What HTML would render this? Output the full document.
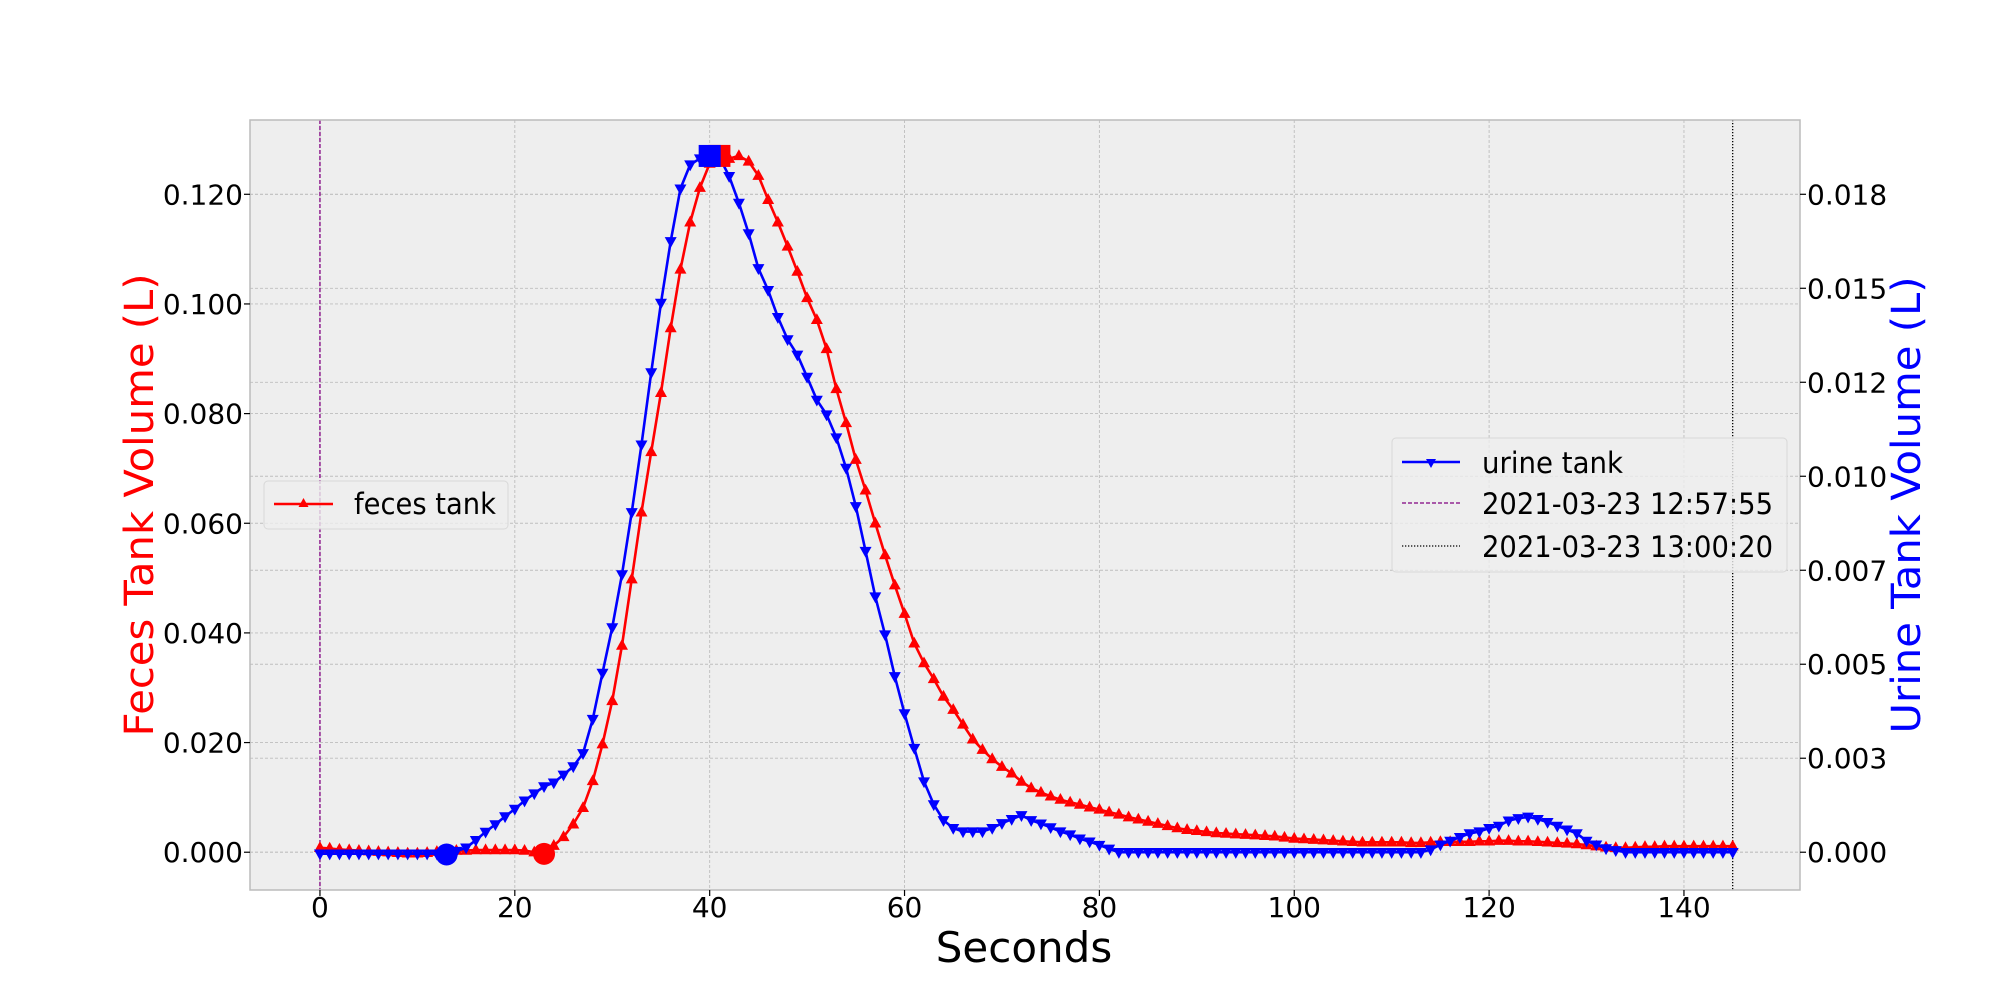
<!DOCTYPE html>
<html><head><meta charset="utf-8"><title>Tank Volume</title>
<style>
html,body{margin:0;padding:0;background:#fff;}
svg{display:block;font-family:"DejaVu Sans","Liberation Sans",sans-serif;}
</style></head>
<body>
<svg id="chart" width="2000" height="1000" viewBox="0 0 2000 1000" xmlns="http://www.w3.org/2000/svg">
  <rect x="250" y="120" width="1550" height="770" fill="#eeeeee"/>
  <g id="grid"></g>
  <g id="vlines"></g>
  <g id="series"></g>
  <rect x="250" y="120" width="1550" height="770" fill="none" stroke="#bcbcbc" stroke-width="1.5"/>
  <g id="axes"></g>
  <text x="1024" y="962" font-size="42" text-anchor="middle" fill="#000">Seconds</text>
  <text x="0" y="0" font-size="40" text-anchor="middle" fill="#ff0000" transform="translate(153,505) rotate(-90)" textLength="463" lengthAdjust="spacingAndGlyphs">Feces Tank Volume (L)</text>
  <text x="0" y="0" font-size="40" text-anchor="middle" fill="#0000ff" transform="translate(1920,505) rotate(-90)" textLength="457" lengthAdjust="spacingAndGlyphs">Urine Tank Volume (L)</text>

  <g>
    <rect x="264" y="481" width="244" height="48" rx="4" fill="#eeeeee" fill-opacity="0.8" stroke="#d8d8d8" stroke-width="1"/>
    <line x1="274" y1="504" x2="333" y2="504" stroke="#ff0000" stroke-width="2.5"/>
    <polygon points="303.5,498 298.5,507 308.5,507" fill="#ff0000"/>
    <text x="354" y="514" font-size="29" fill="#000" textLength="142" lengthAdjust="spacingAndGlyphs">feces tank</text>
  </g>
  <g>
    <rect x="1392" y="438" width="395" height="134" rx="4" fill="#eeeeee" fill-opacity="0.8" stroke="#d8d8d8" stroke-width="1"/>
    <line x1="1402" y1="462" x2="1460" y2="462" stroke="#0000ff" stroke-width="2.5"/>
    <polygon points="1431,468 1426,459 1436,459" fill="#0000ff"/>
    <text x="1482" y="473" font-size="29" fill="#000" textLength="141" lengthAdjust="spacingAndGlyphs">urine tank</text>
    <line x1="1402" y1="503" x2="1460" y2="503" stroke="#800080" stroke-width="1.3" stroke-dasharray="4,2"/>
    <text x="1482" y="514" font-size="29" fill="#000" textLength="291" lengthAdjust="spacingAndGlyphs">2021-03-23 12:57:55</text>
    <line x1="1402" y1="546" x2="1460" y2="546" stroke="#000" stroke-width="1.3" stroke-dasharray="1.3,1.7"/>
    <text x="1482" y="557" font-size="29" fill="#000" textLength="291" lengthAdjust="spacingAndGlyphs">2021-03-23 13:00:20</text>
  </g>
</svg>
<script>
const xTicks = [0, 20, 40, 60, 80, 100, 120, 140];
const leftTicks = [0, 0.02, 0.04, 0.06, 0.08, 0.10, 0.12];
const leftTickLabels = ["0.000","0.020","0.040","0.060","0.080","0.100","0.120"];
const rightTicks = [0, 0.0025, 0.005, 0.0075, 0.01, 0.0125, 0.015, 0.0175];
const rightTickLabels = ["0.000","0.003","0.005","0.007","0.010","0.012","0.015","0.018"];
const eventTimes = [0, 145];
const fecesVolume = [
0.0008,0.0007,0.0005,0.0004,0.0003,0.0002,0.0001,0,-0.0001,-0.0002,
-0.0002,-0.0001,0.0001,0.0002,0.0003,0.0003,0.0004,0.0004,0.0004,0.0004,
0.0004,0.0003,0.0,-0.0003,0.0012,0.0028,0.0051,0.0081,0.013,0.0197,
0.0276,0.0377,0.0498,0.062,0.073,0.0838,0.0956,0.1063,0.1149,0.1212,
0.1256,0.127,0.1265,0.127,0.126,0.1234,0.119,0.1149,0.1105,0.1059,
0.1011,0.0971,0.0918,0.0845,0.0783,0.0716,0.066,0.06,0.0542,0.0487,
0.0435,0.0381,0.0345,0.0316,0.0284,0.026,0.0233,0.0206,0.0187,0.017,
0.0156,0.0144,0.0129,0.0117,0.0109,0.0102,0.0096,0.0091,0.0087,0.0082,
0.0078,0.0073,0.0069,0.0064,0.006,0.0056,0.0052,0.0048,0.0044,0.0041,
0.0039,0.0037,0.0035,0.0034,0.0033,0.0032,0.0031,0.003,0.0029,0.0027,
0.0025,0.0024,0.0023,0.0022,0.0021,0.002,0.0019,0.0018,0.0018,0.0018,
0.0018,0.0018,0.0017,0.0017,0.0018,0.0019,0.0019,0.0019,0.0019,0.002,
0.002,0.0021,0.0021,0.002,0.002,0.0019,0.0018,0.0017,0.0016,0.0015,
0.0013,0.0011,0.0009,0.0008,0.0008,0.0009,0.001,0.001,0.0011,0.0011,
0.0011,0.0011,0.0011,0.0011,0.0011,0.0011];
const urineVolume = [
-0.00004,-0.00004,-0.00004,-0.00004,-0.00004,-0.00004,-0.00004,-0.00004,-0.00004,-0.00004,
-0.00004,-0.00004,-0.00004,-0.00006,0.00003,0.00012,0.00032,0.00054,0.00074,0.00095,
0.00115,0.00137,0.00156,0.00175,0.00185,0.00206,0.00228,0.00263,0.00354,0.00477,
0.00598,0.00739,0.00904,0.01084,0.01276,0.01461,0.01625,0.01765,0.01829,0.01845,
0.01852,0.01849,0.01798,0.01727,0.01646,0.01553,0.01495,0.01423,0.01364,0.01323,
0.01264,0.01203,0.01164,0.01103,0.01022,0.0092,0.00801,0.0068,0.00579,0.00468,
0.00369,0.00277,0.00188,0.00127,0.00085,0.00064,0.00055,0.00055,0.00055,0.00064,
0.00077,0.00088,0.00098,0.00085,0.00076,0.00066,0.00055,0.00047,0.00036,0.00028,
0.00019,0.00009,0,0,0,0,0,0,0,0,
0,0,0,0,0,0,0,0,0,0,
0,0,0,0,0,0,0,0,0,0,
0,0,0,0,0.00007,0.0002,0.0003,0.0004,0.0005,0.00055,
0.00064,0.0007,0.00084,0.0009,0.00094,0.00088,0.0008,0.0007,0.0006,0.0005,
0.0003,0.0002,0.0001,0.00005,0,0,0,0,0,0,
0,0,0,0,0,0];
const fecesCircleIdx = 23, fecesSquareIdx = 41;
const urineCircleIdx = 13, urineSquareIdx = 40;

const NS = "http://www.w3.org/2000/svg";
const PL = 250, PR = 1800, PT = 120, PB = 890;
const xMin = -7.18, xMax = 151.91;
const lMin = -0.00689, lMax = 0.13355;
const rMin = lMin * 0.0175 / 0.12, rMax = lMax * 0.0175 / 0.12;
function xs(v){ return PL + (v - xMin) / (xMax - xMin) * (PR - PL); }
function yl(v){ return PB - (v - lMin) / (lMax - lMin) * (PB - PT); }
function yr(v){ return PB - (v - rMin) / (rMax - rMin) * (PB - PT); }
function mk(tag, attrs, parent){ const e = document.createElementNS(NS, tag); for (const k in attrs) e.setAttribute(k, attrs[k]); parent.appendChild(e); return e; }

const grid = document.getElementById('grid');
const axes = document.getElementById('axes');
xTicks.forEach((t) => {
  const g = mk('line', {x1: xs(t), x2: xs(t), y1: PT, y2: PB, stroke: '#bdbdbd', 'stroke-width': 0.9, 'stroke-dasharray': '3,2'}, grid);
  
  
  const tk = mk('line', {x1: xs(t), x2: xs(t), y1: PB, y2: PB + 6, stroke: '#000', 'stroke-width': 1.2}, axes);
  
  
  const lb = mk('text', {x: xs(t), y: 917, 'font-size': 28, 'text-anchor': 'middle', fill: '#000'}, axes);
  lb.textContent = String(t);
  
  
});
leftTicks.forEach((v, i) => {
  const g = mk('line', {x1: PL, x2: PR, y1: yl(v), y2: yl(v), stroke: '#bdbdbd', 'stroke-width': 0.9, 'stroke-dasharray': '3,2'}, grid);
  
  
  const tk = mk('line', {x1: PL - 6, x2: PL, y1: yl(v), y2: yl(v), stroke: '#000', 'stroke-width': 1.2}, axes);
  
  
  const lb = mk('text', {x: 243, y: yl(v) + 10, 'font-size': 28, 'text-anchor': 'end', fill: '#000'}, axes);
  lb.textContent = leftTickLabels[i];
  
  
});
rightTicks.forEach((v, i) => {
  const g = mk('line', {x1: PL, x2: PR, y1: yr(v), y2: yr(v), stroke: '#bdbdbd', 'stroke-width': 0.9, 'stroke-dasharray': '3,2'}, grid);
  
  
  const tk = mk('line', {x1: PR, x2: PR + 6, y1: yr(v), y2: yr(v), stroke: '#000', 'stroke-width': 1.2}, axes);
  
  
  const lb = mk('text', {x: 1807, y: yr(v) + 10, 'font-size': 28, 'text-anchor': 'start', fill: '#000'}, axes);
  lb.textContent = rightTickLabels[i];
  
  
});

const vl = document.getElementById('vlines');
const v0 = mk('line', {x1: xs(eventTimes[0]), x2: xs(eventTimes[0]), y1: PT, y2: PB, stroke: '#800080', 'stroke-width': 1.3, 'stroke-dasharray': '4,2'}, vl);


const v1 = mk('line', {x1: xs(eventTimes[1]), x2: xs(eventTimes[1]), y1: PT, y2: PB, stroke: '#000', 'stroke-width': 1.3, 'stroke-dasharray': '1.3,1.7'}, vl);



const ser = document.getElementById('series');
function drawSeries(vals, yf, color, up, name){
  const g = mk('g', {}, ser);
  
  
  const pts = vals.map((v, i) => xs(i).toFixed(2) + ',' + yf(v).toFixed(2)).join(' ');
  const pl = mk('polyline', {points: pts, fill: 'none', stroke: color, 'stroke-width': 2.6, 'stroke-linejoin': 'round'}, g);
  
  
  vals.forEach((v, i) => {
    const x = xs(i), y = yf(v), s = 6;
    const p = up ? `${x},${y - s * 1.1} ${x - s},${y + s * 0.7} ${x + s},${y + s * 0.7}`
                 : `${x},${y + s * 1.1} ${x - s},${y - s * 0.7} ${x + s},${y - s * 0.7}`;
    const m = mk('polygon', {points: p, fill: color}, g);
    
    
  });
  return g;
}
drawSeries(fecesVolume, yl, '#ff0000', true, 'feces-series');
drawSeries(urineVolume, yr, '#0000ff', false, 'urine-series');

const fc = mk('circle', {cx: xs(fecesCircleIdx), cy: yl(fecesVolume[fecesCircleIdx]), r: 11, fill: '#ff0000'}, ser);


const fs = mk('rect', {x: xs(fecesSquareIdx) - 11, y: yl(fecesVolume[fecesSquareIdx]) - 11, width: 22, height: 22, fill: '#ff0000'}, ser);


const uc = mk('circle', {cx: xs(urineCircleIdx), cy: yr(urineVolume[urineCircleIdx]), r: 11, fill: '#0000ff'}, ser);


const us = mk('rect', {x: xs(urineSquareIdx) - 11, y: yr(urineVolume[urineSquareIdx]) - 11, width: 22, height: 22, fill: '#0000ff'}, ser);


</script>
</body></html>
